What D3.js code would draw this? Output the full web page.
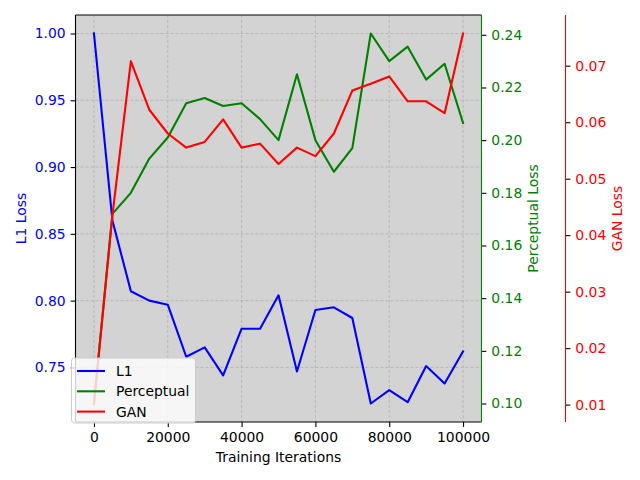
<!DOCTYPE html>
<html>
<head>
<meta charset="utf-8">
<script src="https://cdn.jsdelivr.net/npm/d3@7"></script>
<style>
  body { margin: 0; background: #fff; }
  text { font-family: "DejaVu Sans", sans-serif; }
</style>
</head>
<body>
<svg id="chart" width="640" height="480"></svg>
<script>
// training iterations
var iterations = [0, 5000, 10000, 15000, 20000, 25000, 30000, 35000, 40000, 45000, 50000,
                  55000, 60000, 65000, 70000, 75000, 80000, 85000, 90000, 95000, 100000];
// loss curves
var l1Loss = [1.000, 0.860, 0.807, 0.800, 0.797, 0.758, 0.765, 0.744, 0.779, 0.779, 0.804,
              0.747, 0.793, 0.795, 0.787, 0.723, 0.733, 0.724, 0.751, 0.738, 0.762];
var perceptualLoss = [0.100, 0.172, 0.180, 0.193, 0.201, 0.214, 0.216, 0.213, 0.214, 0.208, 0.200,
                      0.225, 0.200, 0.188, 0.197, 0.2405, 0.230, 0.2355, 0.223, 0.229, 0.2065];
var ganLoss = [0.0102, 0.0435, 0.0708, 0.0622, 0.0580, 0.0555, 0.0565, 0.0605, 0.0555, 0.0562, 0.0526,
               0.0555, 0.0540, 0.0580, 0.0656, 0.0668, 0.0681, 0.0637, 0.0637, 0.0616, 0.0757];
var xTicks = [0, 20000, 40000, 60000, 80000, 100000];
var l1Ticks = [0.75, 0.80, 0.85, 0.90, 0.95, 1.00];
var percTicks = [0.10, 0.12, 0.14, 0.16, 0.18, 0.20, 0.22, 0.24];
var ganTicks = [0.01, 0.02, 0.03, 0.04, 0.05, 0.06, 0.07];

var svg = d3.select("#chart");
var plotLeft = 75.5, plotRight = 481.5, plotTop = 15, plotBottom = 422;
var ganSpineX = plotRight + 84;
var fontSize = "13.9px";

// matplotlib-style 5% margins
function padded(vals) {
    var e = d3.extent(vals), m = (e[1] - e[0]) * 0.05;
    return [e[0] - m, e[1] + m];
}

var x = d3.scaleLinear().domain(padded(iterations)).range([plotLeft, plotRight]);
var y1 = d3.scaleLinear().domain(padded(l1Loss)).range([plotBottom, plotTop]);
var y2 = d3.scaleLinear().domain(padded(perceptualLoss)).range([plotBottom, plotTop]);
var y3 = d3.scaleLinear().domain(padded(ganLoss)).range([plotBottom, plotTop]);

// plot background
svg.append("rect").attr("x", plotLeft).attr("y", plotTop)
    .attr("width", plotRight - plotLeft).attr("height", plotBottom - plotTop)
    .attr("fill", "#d3d3d3");

// grid
var grid = svg.append("g").attr("stroke", "#a8a8a8").attr("stroke-width", 0.8)
    .attr("stroke-dasharray", "3,2").attr("opacity", 0.8);
xTicks.forEach(function(t) {
    grid.append("line").attr("x1", x(t)).attr("x2", x(t)).attr("y1", plotTop).attr("y2", plotBottom);
});
l1Ticks.forEach(function(t) {
    grid.append("line").attr("x1", plotLeft).attr("x2", plotRight).attr("y1", y1(t)).attr("y2", y1(t));
});

function styleAxis(g, color) {
    g.select(".domain").remove();
    g.selectAll(".tick line").attr("stroke", "#000").attr("stroke-width", 1.1);
    g.selectAll(".tick text").attr("fill", color).style("font-size", fontSize)
        .style("font-family", "DejaVu Sans, sans-serif");
}

// x axis
var gx = svg.append("g").attr("transform", "translate(0," + plotBottom + ")")
    .call(d3.axisBottom(x).tickValues(xTicks).tickFormat(d3.format("d")).tickSize(4.9).tickPadding(4.9));
styleAxis(gx, "#000");

var gy1 = svg.append("g").attr("transform", "translate(" + plotLeft + ",0)")
    .call(d3.axisLeft(y1).tickValues(l1Ticks).tickFormat(d3.format(".2f")).tickSize(4.9).tickPadding(4.9));
styleAxis(gy1, "blue");

var gy2 = svg.append("g").attr("transform", "translate(" + plotRight + ",0)")
    .call(d3.axisRight(y2).tickValues(percTicks).tickFormat(d3.format(".2f")).tickSize(4.9).tickPadding(4.9));
styleAxis(gy2, "green");

var gy3 = svg.append("g").attr("transform", "translate(" + ganSpineX + ",0)")
    .call(d3.axisRight(y3).tickValues(ganTicks).tickFormat(d3.format(".2f")).tickSize(4.9).tickPadding(4.9));
styleAxis(gy3, "red");

// lines
function drawLine(vals, yScale, color) {
    var line = d3.line().x(function(d, i) { return x(iterations[i]); }).y(function(d) { return yScale(d); });
    svg.append("path").datum(vals).attr("d", line)
        .attr("fill", "none").attr("stroke", color).attr("stroke-width", 2.1)
        .attr("stroke-linejoin", "round").attr("stroke-linecap", "square");
}
drawLine(l1Loss, y1, "blue");
drawLine(perceptualLoss, y2, "green");
drawLine(ganLoss, y3, "red");

// spines
var sp = svg.append("g").attr("stroke-width", 1.1).attr("fill", "none");
sp.append("line").attr("x1", plotLeft).attr("x2", plotRight).attr("y1", plotTop).attr("y2", plotTop).attr("stroke", "#000");
sp.append("line").attr("x1", plotLeft).attr("x2", plotRight).attr("y1", plotBottom).attr("y2", plotBottom).attr("stroke", "#000");
sp.append("line").attr("x1", plotLeft).attr("x2", plotLeft).attr("y1", plotTop).attr("y2", plotBottom).attr("stroke", "#000");
sp.append("line").attr("x1", plotRight).attr("x2", plotRight).attr("y1", plotTop).attr("y2", plotBottom).attr("stroke", "green");
sp.append("line").attr("x1", ganSpineX).attr("x2", ganSpineX).attr("y1", plotTop).attr("y2", plotBottom).attr("stroke", "red");

// axis labels
var midY = (plotTop + plotBottom) / 2;
svg.append("text").attr("x", (plotLeft + plotRight) / 2).attr("y", 462).attr("text-anchor", "middle")
    .style("font-size", fontSize).text("Training Iterations");
svg.append("text").attr("transform", "translate(26," + midY + ") rotate(-90)").attr("text-anchor", "middle")
    .attr("fill", "blue").style("font-size", fontSize).text("L1 Loss");
svg.append("text").attr("transform", "translate(538," + midY + ") rotate(-90)").attr("text-anchor", "middle")
    .attr("fill", "green").style("font-size", fontSize).text("Perceptual Loss");
svg.append("text").attr("transform", "translate(622," + midY + ") rotate(-90)").attr("text-anchor", "middle")
    .attr("fill", "red").style("font-size", fontSize).text("GAN Loss");

// legend
var legendItems = [["L1", "blue"], ["Perceptual", "green"], ["GAN", "red"]];
var lg = svg.append("g");
lg.append("rect").attr("x", 71.5).attr("y", 358).attr("width", 124).attr("height", 65)
    .attr("rx", 3).attr("fill", "#fff").attr("fill-opacity", 0.8)
    .attr("stroke", "#cccccc").attr("stroke-width", 1);
legendItems.forEach(function(it, i) {
    var yy = 371 + i * 20.3;
    lg.append("line").attr("x1", 77).attr("x2", 105).attr("y1", yy).attr("y2", yy)
        .attr("stroke", it[1]).attr("stroke-width", 2.1);
    lg.append("text").attr("x", 116).attr("y", yy + 5).style("font-size", fontSize).text(it[0]);
});
</script>
</body>
</html>
